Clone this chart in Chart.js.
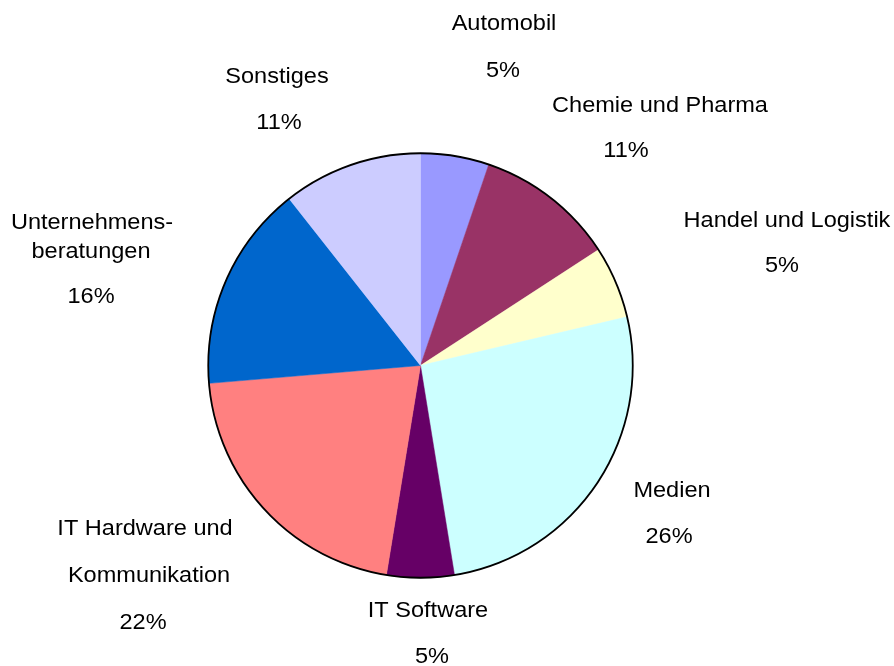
<!DOCTYPE html>
<html>
<head>
<meta charset="utf-8">
<script src="https://cdn.jsdelivr.net/npm/chart.js@4"></script>
<style>
  html, body { margin: 0; padding: 0; background: #fff; }
  canvas { display: block; }
</style>
</head>
<body>
<canvas id="myChart" width="894" height="666"></canvas>
<script>
// Branchen (im Uhrzeigersinn ab 12 Uhr)
var categories = [
    'Automobil',
    'Chemie und Pharma',
    'Handel und Logistik',
    'Medien',
    'IT Software',
    ['IT Hardware und', 'Kommunikation'],
    ['Unternehmens-', 'beratungen'],
    'Sonstiges'
];

var shares = [5.21, 10.61, 5.50, 26.12, 5.13, 21.09, 15.72, 10.62];

// Prozentangaben wie beschriftet
var pctLabels = ['5%', '11%', '5%', '26%', '5%', '22%', '16%', '11%'];

var sliceColors = ['#9999FF', '#993366', '#FFFFCC', '#CCFFFF', '#660066', '#FF8080', '#0066CC', '#CCCCFF'];

// Position der Beschriftungszeilen: [Mitte x, Grundlinie y]
var labelLayout = [
    [[504, 30], [503, 77]],
    [[660, 112], [626, 157]],
    [[787, 227], [782, 272]],
    [[672, 497], [669, 543]],
    [[428, 617], [432, 663]],
    [[145, 535], [149, 582], [143, 629]],
    [[92, 229], [91, 258], [91, 303]],
    [[277, 83], [279, 129]]
];

// Beschriftungen und Kreisumrandung
var pieLabels = {
    id: 'pieLabels',
    afterDatasetsDraw: function (chart) {
        var ctx = chart.ctx;
        var arcs = chart.getDatasetMeta(0).data;

        // nur der äußere Rand ist schwarz umrandet
        var a = arcs[0];
        ctx.save();
        ctx.beginPath();
        ctx.arc(a.x, a.y, a.outerRadius, 0, Math.PI * 2);
        ctx.lineWidth = 1.8;
        ctx.strokeStyle = '#000';
        ctx.stroke();
        ctx.restore();

        ctx.save();
        ctx.font = '22px "Liberation Sans", Arial, sans-serif';
        ctx.fillStyle = '#000';
        ctx.textAlign = 'center';
        ctx.textBaseline = 'alphabetic';
        categories.forEach(function (cat, i) {
            var lines = [].concat(cat, pctLabels[i]);
            lines.forEach(function (txt, j) {
                var p = labelLayout[i][j];
                ctx.save();
                ctx.translate(p[0], p[1]);
                ctx.scale(1.07, 1);
                ctx.fillText(txt, 0, 0);
                ctx.restore();
            });
        });
        ctx.restore();
    }
};

var ctx = document.getElementById('myChart').getContext('2d');
window.myChart = new Chart(ctx, {
    type: 'pie',
    data: {
        labels: categories,
        datasets: [{
            data: shares,
            backgroundColor: sliceColors,
            borderColor: sliceColors,
            borderWidth: 0.5
        }]
    },
    options: {
        responsive: false,
        animation: false,
        layout: {
            padding: { left: 208, right: 261, top: 153, bottom: 88 }
        },
        plugins: {
            legend: { display: false },
            tooltip: { enabled: false }
        }
    },
    plugins: [pieLabels]
});
</script>
</body>
</html>
